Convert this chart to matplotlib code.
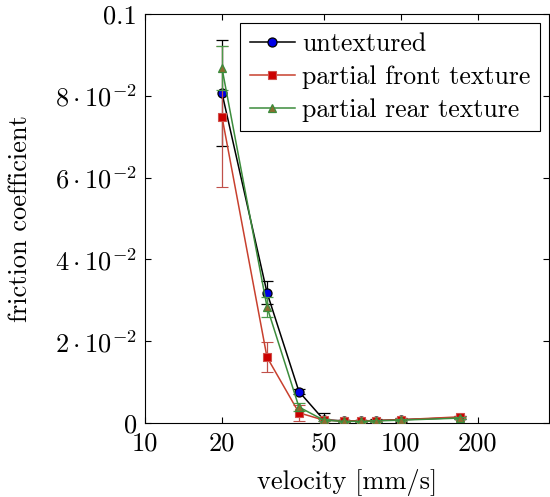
import matplotlib.pyplot as plt
from matplotlib.ticker import FixedLocator, FixedFormatter, NullLocator

plt.rcParams['font.family'] = 'cmr10'
plt.rcParams['mathtext.fontset'] = 'cm'
plt.rcParams['axes.formatter.use_mathtext'] = True
plt.rcParams['font.size'] = 19

# Geschwindigkeiten [mm/s]
velocity = [20, 30, 40, 50, 60, 70, 80, 100, 170]

untextured = [0.0807, 0.0319, 0.0077, 0.0008, 0.0005, 0.0005, 0.0006, 0.0008, 0.0013]
untextured_err = [0.0129, 0.0027, 0.0005, 0.0017, 0.0003, 0.0003, 0.0003, 0.0005, 0.0004]

front = [0.0749, 0.0161, 0.0025, 0.0007, 0.0005, 0.0005, 0.0006, 0.0008, 0.0015]
front_err = [0.0173, 0.0037, 0.0020, 0.0003, 0.0002, 0.0002, 0.0002, 0.0003, 0.0003]

rear = [0.0868, 0.0284, 0.0039, 0.0007, 0.0004, 0.0004, 0.0005, 0.0007, 0.0012]
rear_err = [0.0055, 0.0025, 0.0010, 0.0003, 0.0002, 0.0002, 0.0002, 0.0003, 0.0003]

x_ticks = [10, 20, 50, 100, 200]
y_ticks = [0, 0.02, 0.04, 0.06, 0.08, 0.1]
y_tick_labels = ['0', r'$2\cdot10^{-2}$', r'$4\cdot10^{-2}$', r'$6\cdot10^{-2}$',
                 r'$8\cdot10^{-2}$', '0.1']

fig = plt.figure(figsize=(5.5, 4.97), dpi=100)
ax = fig.add_axes([0.2636, 0.1489, 0.7345, 0.8229])

c1 = ax.errorbar(velocity, untextured, yerr=untextured_err, color='black', lw=1.1,
                 marker='o', ms=6.5, mfc='#0000e6', mec='black', mew=0.9,
                 capsize=4, elinewidth=0.9, zorder=3)
c2 = ax.errorbar(velocity, front, yerr=front_err, color='#c8402e', ecolor='#c0504a', lw=1.1,
                 marker='s', ms=6.0, mfc='#cc0000', mec='#d0504a', mew=0.8,
                 capsize=4, elinewidth=0.9, zorder=4)
c3 = ax.errorbar(velocity, rear, yerr=rear_err, color='#3c8c3c', ecolor='#4a9a4a', lw=1.1,
                 marker='^', ms=6.4, mfc='#8c6c30', mec='#3c8c3c', mew=0.9,
                 capsize=4, elinewidth=0.9, zorder=5)

ax.set_xscale('log')
ax.set_xlim(10, 380)
ax.set_ylim(0, 0.1)
ax.xaxis.set_major_locator(FixedLocator(x_ticks))
ax.xaxis.set_major_formatter(FixedFormatter([str(t) for t in x_ticks]))
ax.xaxis.set_minor_locator(NullLocator())
ax.yaxis.set_major_locator(FixedLocator(y_ticks))
ax.yaxis.set_major_formatter(FixedFormatter(y_tick_labels))

ax.tick_params(direction='in', top=True, right=True, length=4, width=0.8)
ax.tick_params(axis='x', pad=6)
ax.tick_params(axis='y', pad=6)
for s in ax.spines.values():
    s.set_linewidth(0.8)

ax.set_xlabel('velocity [mm/s]')
ax.set_ylabel('friction coefficient')
ax.xaxis.set_label_coords(0.5, -0.112)
ax.yaxis.set_label_coords(-0.28, 0.5)

# Legende ohne Fehlerbalken
handles = [c[0] for c in (c1, c2, c3)]
labels = ['untextured', 'partial front texture', 'partial rear texture']
leg = ax.legend(handles, labels, loc='upper right', fancybox=False, edgecolor='black',
                framealpha=1, handlelength=1.75, borderpad=0.35, labelspacing=0.36,
                handletextpad=0.3, borderaxespad=0.35, fontsize=18.6)
leg.get_frame().set_linewidth(0.8)

fig.savefig('out.png', dpi=100)
